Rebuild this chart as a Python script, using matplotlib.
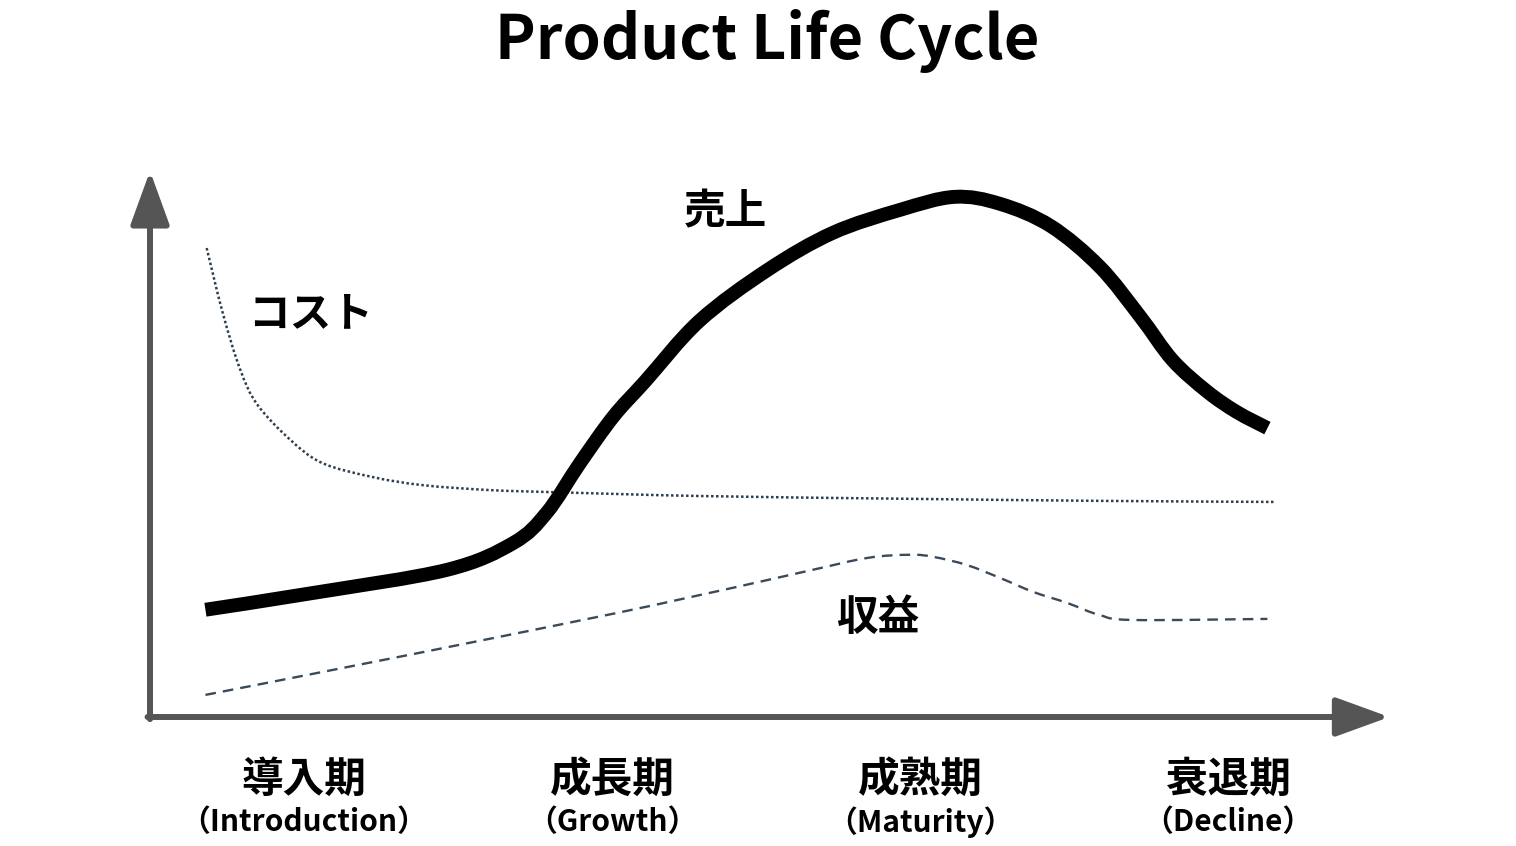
import matplotlib
matplotlib.use('Agg')
import matplotlib.pyplot as plt
import numpy as np
from matplotlib.path import Path
from matplotlib.patches import PathPatch

plt.rcParams['font.family'] = ['Noto Sans CJK JP', 'DejaVu Sans']

# curve values (time 0-100, level 0-100)
sales_x = [4.5, 13.2, 24.1, 29.5, 32.2, 34.9, 37.6, 40.2, 44.6, 50.1, 55.4, 60.9, 65.3, 69.0, 73.1, 77.1, 80.4, 83.0, 85.8, 88.2, 90.7]
sales_y = [19.9, 23.0, 27.3, 32.3, 37.9, 47.1, 55.7, 62.3, 73.5, 82.9, 89.8, 94.1, 96.5, 95.2, 91.1, 83.5, 74.2, 66.2, 60.4, 56.6, 53.6]

cost_x = [4.6, 5.9, 7.3, 8.7, 11.4, 14.0, 18.1, 22.2, 27.6, 33.0, 44.6, 60.9, 77.1, 91.3]
cost_y = [87.0, 75.0, 64.6, 58.0, 51.4, 47.1, 44.5, 43.0, 42.1, 41.7, 41.0, 40.5, 40.1, 39.9]

profit_x = [4.5, 15.2, 28.2, 41.0, 53.0, 58.2, 61.7, 63.6, 66.3, 69.0, 71.7, 74.4, 77.1, 79.8, 90.7]
profit_y = [4.1, 8.9, 14.8, 20.8, 26.9, 29.5, 30.1, 29.7, 28.2, 25.8, 23.2, 21.2, 18.9, 18.0, 18.2]

stages = ['導入期', '成長期', '成熟期', '衰退期']
stages_en = ['（Introduction）', '（Growth）', '（Maturity）', '（Decline）']
stage_pos = [12.5, 37.5, 62.5, 87.5]


def smooth_path(xs, ys):
    # Catmull-Rom through the points, drawn as cubic Bezier segments
    p = np.column_stack([xs, ys])
    verts = [p[0]]
    codes = [Path.MOVETO]
    for i in range(len(p) - 1):
        p0 = p[i - 1] if i > 0 else p[i]
        p3 = p[i + 2] if i + 2 < len(p) else p[i + 1]
        c1 = p[i] + (p[i + 1] - p0) / 6
        c2 = p[i + 1] - (p3 - p[i]) / 6
        verts += [c1, c2, p[i + 1]]
        codes += [Path.CURVE4] * 3
    return Path(verts, codes)


fig = plt.figure(figsize=(15.16, 8.46), dpi=100)
ax = fig.add_axes([150 / 1516, 129 / 846, 1232 / 1516, 539 / 846])
ax.set_xlim(0, 100)
ax.set_ylim(0, 100)
ax.axis('off')

axis_col = '#555555'
arrow = dict(arrowstyle='-|>,head_length=3.3,head_width=1.2', lw=4.3,
             color=axis_col, shrinkA=0, shrinkB=0)
ax.annotate('', xy=(0, 1.013), xytext=(0, -0.004), xycoords='axes fraction', arrowprops=arrow)
ax.annotate('', xy=(1.006, 0), xytext=(-0.002, 0), xycoords='axes fraction', arrowprops=arrow)

ax.add_patch(PathPatch(smooth_path(cost_x, cost_y), fill=False, edgecolor='#2c3e50',
                       lw=1.8, ls=(0, (1, 1))))
ax.add_patch(PathPatch(smooth_path(profit_x, profit_y), fill=False, edgecolor='#3b4a58',
                       lw=1.7, ls=(0, (4.5, 3.0))))
ax.add_patch(PathPatch(smooth_path(sales_x, sales_y), fill=False, edgecolor='black',
                       lw=10, capstyle='butt', joinstyle='round'))

ax.text(46.7, 93.7, '売上', fontsize=30, fontweight='bold', ha='center', va='center')
ax.text(13.0, 74.8, 'コスト', fontsize=30, fontweight='bold', ha='center', va='center')
ax.text(59.1, 18.4, '収益', fontsize=30, fontweight='bold', ha='center', va='center')

for x, jp, en in zip(stage_pos, stages, stages_en):
    ax.text(x, -11.7, jp, fontsize=30, fontweight='bold', ha='center', va='center', clip_on=False)
    ax.text(x, -19.5, en, fontsize=21.5, fontweight='bold', ha='center', va='center', clip_on=False)

fig.text(0.506, 0.952, 'Product Life Cycle', fontsize=44, fontweight='bold',
         ha='center', va='center')

fig.savefig('out.png', dpi=100)
